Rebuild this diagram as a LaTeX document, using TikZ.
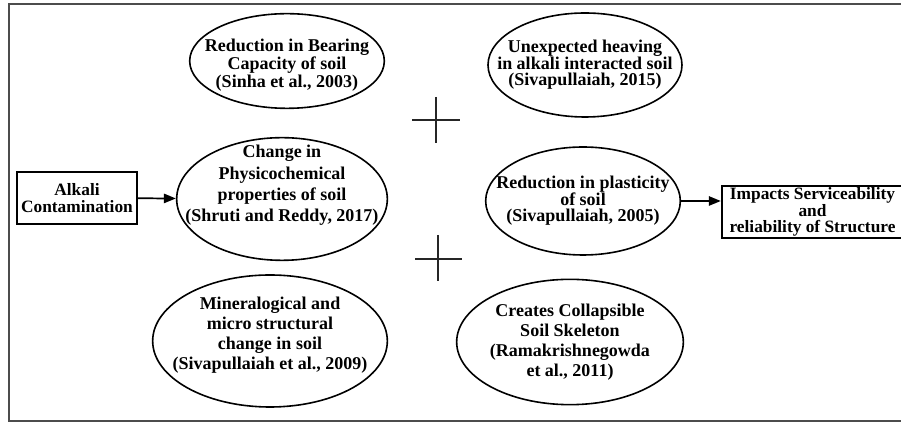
\documentclass[tikz,border=0pt]{standalone}
\usepackage{fontspec}
\setmainfont{Liberation Serif}
\usetikzlibrary{shapes.geometric,arrows.meta}

\tikzset{
	effect/.style={draw,ellipse,line width=1.2pt,inner sep=0pt},
	words/.style={align=center,inner sep=0pt,font=\bfseries\fontsize{13.5}{#1}\selectfont},
	words/.default=14,
	textbox/.style={draw,rectangle,line width=1.1pt,inner sep=1pt,align=center,font=\bfseries\fontsize{13}{12.5}\selectfont},
	link/.style={-{Triangle[length=9pt,width=7pt]},line width=1.3pt},
	cross/.style={line width=1.1pt,black!85}
}

\begin{document}
\begin{tikzpicture}[x=0.75pt,y=-0.75pt]
	\useasboundingbox (0,0) rectangle (901,423);
	\draw[gray!60!black,line width=1.6pt] (905,4) -| (9,421) -- (905,421);
	\node[effect,minimum width=146pt,minimum height=71pt,label={[words=13.5,yshift=-3pt]center:Reduction in Bearing\\Capacity of soil\\(Sinha et al., 2003)}] (bearing) at (287,61) {};
	\node[effect,minimum width=145.5pt,minimum height=78pt,label={[words=12.5]center:Unexpected heaving\\in alkali interacted soil\\(Sivapullaiah, 2015)}] (heaving) at (585,65) {};
	\node[effect,minimum width=158pt,minimum height=92pt,label={[words=16,yshift=10pt]center:Change in\\Physicochemical\\properties of soil\\(Shruti and Reddy, 2017)}] (physico) at (282,199) {};
	\node[effect,minimum width=176pt,minimum height=99pt,label={[words=15,yshift=4.5pt]center:Mineralogical and\\micro structural\\change in soil\\(Sivapullaiah et al., 2009)}] (mineral) at (270,341) {};
	\node[effect,minimum width=146pt,minimum height=81pt,label={[words=12.5]center:Reduction in plasticity\\of soil\\(Sivapullaiah, 2005)}] (plastic) at (583,201) {};
	\node[effect,minimum width=170pt,minimum height=94pt,label={[words=15]center:Creates Collapsible\\Soil Skeleton\\(Ramakrishnegowda\\et al., 2011)}] (collapse) at (570,342) {};
	\node[textbox,minimum width=90pt,minimum height=39pt] (alkali) at (77,198) {Alkali\\Contamination};
	\node[textbox,line width=1.5pt,minimum width=136pt,minimum height=37.5pt] (impact) at (812.5,212) {Impacts Serviceability\\and\\reliability of Structure};
	\draw[link] (alkali) -- (physico);
	\draw[link] (plastic) -- (impact.west |- plastic);
	\draw[cross] (412,120) -- (460,120);
	\draw[cross] (436,97) -- (436,143);
	\draw[cross] (415,259) -- (462,259);
	\draw[cross] (438,235) -- (438,281);
\end{tikzpicture}
\end{document}
